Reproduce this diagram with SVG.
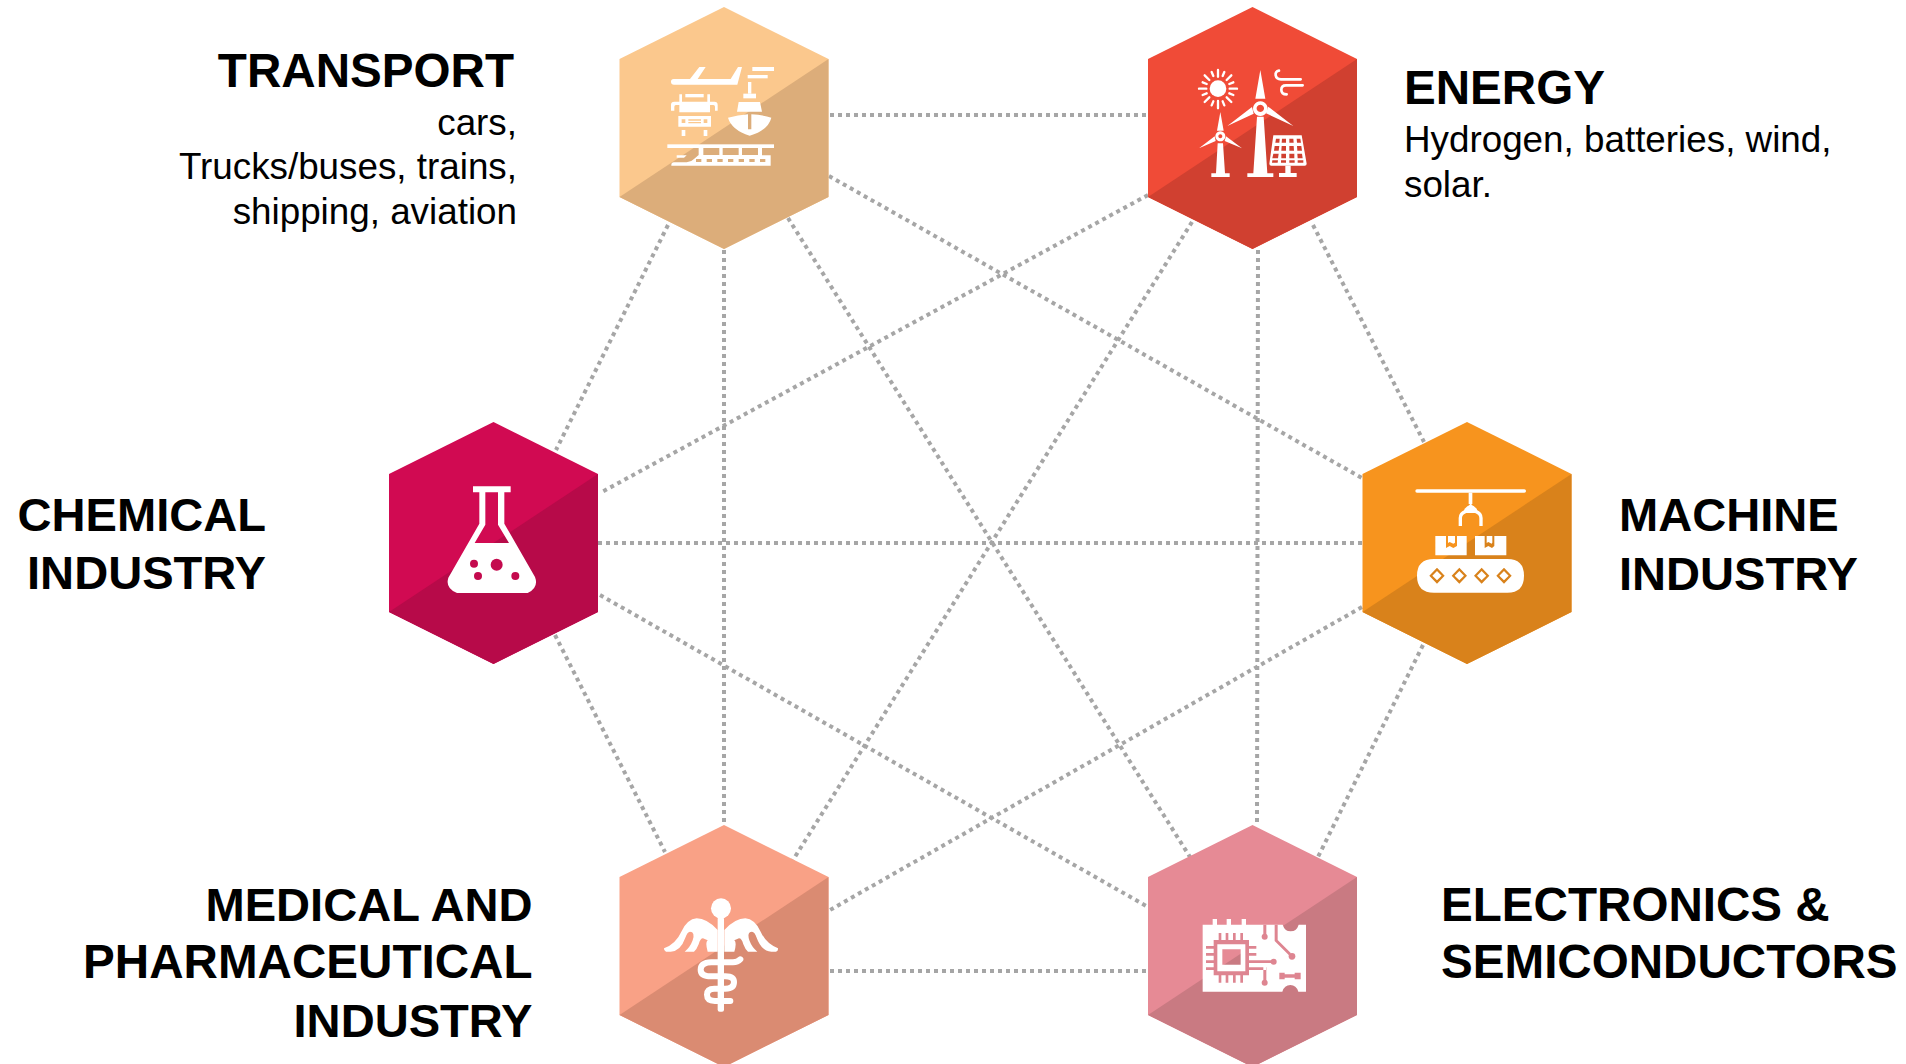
<svg xmlns="http://www.w3.org/2000/svg" width="1906" height="1064" viewBox="0 0 1906 1064">
<style>
text{font-family:"Liberation Sans",Arial,sans-serif;fill:#000}
.h{font-size:47.6px;font-weight:700}
.n{font-size:47.1px}
.s{font-size:36.8px}
.e{text-anchor:end}
.c line{stroke:#a6a6a6;stroke-width:4;stroke-dasharray:4 4;fill:none}
.w{fill:#fff}
.l{fill:none;stroke:#fff;stroke-linecap:round}
</style>
<defs>
<polygon id="hex" points="104.500,0 209,52 209,190 104.500,242 0,190 0,52"/>
<polygon id="shade" points="209,52 209,190 104.500,242 0,190"/>
</defs>
<rect width="1906" height="1064" fill="#fff"/>
<g id="connectors" class="c">
<line x1="830" y1="115" x2="1147" y2="115"/>
<line x1="724" y1="250" x2="724" y2="825"/>
<line x1="1258" y1="250" x2="1257" y2="825"/>
<line x1="668" y1="225" x2="556" y2="450"/>
<line x1="1313" y1="225" x2="1424" y2="442"/>
<line x1="555" y1="635" x2="665" y2="852"/>
<line x1="1423" y1="645" x2="1318" y2="857"/>
<line x1="598" y1="543" x2="1362" y2="543"/>
<line x1="830" y1="971" x2="1148" y2="971"/>
<line x1="829" y1="176" x2="1362" y2="478"/>
<line x1="1148" y1="195" x2="600" y2="493"/>
<line x1="788" y1="218" x2="1190" y2="857"/>
<line x1="1192" y1="222" x2="793" y2="860"/>
<line x1="600" y1="595" x2="1148" y2="907"/>
<line x1="1362" y1="607" x2="830" y2="910"/>
</g>
<g id="transport">
<use href="#hex" x="619.500" y="7" fill="#FBC88D"/><use href="#shade" x="619.500" y="7" fill="#DCAD7A"/>
<g transform="translate(600,0) scale(.33333)">
<path class="w" d="M213 245q0-8 8-8h49l28-36h19l-24 36h99l22-36h12l-14 53H222q-9 0-9-9z"/>
<rect class="w" x="457" y="201" width="65" height="12"/><rect class="w" x="443" y="225" width="60" height="10"/>
<rect class="w" x="256" y="282" width="55" height="10"/>
<path class="w" d="M213 332v-17q0-10 10-10h15v-22h8v22h76v-22h8v22h13q10 0 10 10v17h-8v-12q0-5-5-5h-10v22h-92v-22h-10q-5 0-5 5v12z"/>
<path class="w" fill-rule="evenodd" d="M235 348h98v32h-98zM245 358v11h11v-11zM311 358v11h11v-11zM265 358v4h38v-4zM265 366v4h38v-4z"/>
<rect class="w" x="245" y="390" width="11" height="18"/><rect class="w" x="311" y="390" width="11" height="18"/>
<rect class="w" x="444" y="246" width="10" height="35"/><rect class="w" x="430" y="281" width="38" height="14"/>
<path class="w" d="M416 306h64l6 29h-75zM384 353q30-8 60-10v45h10v-45q36 2 60 10-9 37-65 54-54-17-65-54z"/>
<rect class="w" x="202" y="433" width="320" height="11"/>
<path class="w" fill-rule="evenodd" d="M296 444h14v21h48v-21h10v21h48v-21h10v21h48v-21h12v22h26v31H214v-2q0-8 8-8h38q14-1 22-10l14-12zM288 477v9h16v-9zM320 477v9h16v-9zM352 477v9h16v-9zM384 477v9h16v-9zM416 477v9h16v-9zM448 477v9h16v-9zM480 477v9h16v-9z"/>
<path class="w" d="M230 466h30l-8 7h-22z"/>
</g>
</g>
<g id="energy">
<use href="#hex" x="1148" y="7" fill="#F04B37"/><use href="#shade" x="1148" y="7" fill="#D04030"/>
<g transform="translate(1130,0) scale(.33333)">
<circle class="w" cx="264" cy="266" r="25"/>
<g class="l" stroke-width="7"><path d="M264 210v20M264 303v22M207 266h22M299 266h22M224 226l14 14M290 292l14 14M304 226l-14 14M238 292l-14 14M245 216l5 12M278 304l5 12M283 216l-5 12M250 304l-5 12M218 247l12 5M298 280l12 5M310 247l-12 5M230 280l-12 5"/></g>
<path class="w" fill-rule="evenodd" d="M391 210l15 86h-30zM391 304a22 22 0 1 0 .1 0zM391 314a11 11 0 1 1-.1 0z"/>
<path class="w" d="M366 321l5 20-79 37zM415 320l-7 20 82 38zM381 350h20l11 170h18v11h-78v-11h18z"/>
<path class="w" fill-rule="evenodd" d="M271 336l10 56h-20zM271 394a15 15 0 1 0 .1 0zM271 403a6 6 0 1 1-.1 0z"/>
<path class="w" d="M254 409l3 14-50 22zM288 409l-4 14 52 22zM263 430h16l6 90h14v11h-55v-11h14z"/>
<path class="l" stroke-width="8" fill="none" d="M447 212q-12 2-10 14 2 12 16 12h59M518 256h-50q-14 0-14 13 0 14 16 14"/>
<path class="w" fill-rule="evenodd" d="M430 406h85l15 85q0 6-6 6H424q-6 0-6-6zM438 416l-2 12h12l1-12zM456 416l-1 12h13v-12zM478 416v12h13l-1-12zM500 416l1 12h12l-2-12zM434 438l-2 14h14l2-14zM455 438l-1 14h14v-14zM478 438v14h14l-1-14zM501 438l1 14h14l-2-14zM430 461l-3 14h17l2-14zM454 461v14h14v-14zM478 461v14h15v-14zM502 461l1 14h15l-2-14zM427 481l-1 7h17l1-7zM453 481v7h15v-7zM478 481v7h16v-7zM503 481v7h17v-7z"/>
<path class="w" d="M466 497h16v22h18v12h-53v-12h19z"/>
</g>
</g>
<g id="chemical">
<use href="#hex" x="389" y="422" fill="#D10A52"/><use href="#shade" x="389" y="422" fill="#B70A49"/>
<g transform="translate(380,410) scale(.33333)">
<path class="w" fill-rule="evenodd" d="M279 229h113v18h-19v94l92 160q12 32-22 48H231q-36-14-26-46l93-162v-94h-19zM316 247v97l-32 55h103l-33-55v-97z"/>
<g fill="#C40A4E"><circle cx="350" cy="464" r="18"/><circle cx="282" cy="461" r="12"/><circle cx="294" cy="498" r="12"/><circle cx="406" cy="498" r="12"/></g>
</g>
</g>
<g id="machine">
<use href="#hex" x="1362.500" y="422" fill="#F7941E"/><use href="#shade" x="1362.500" y="422" fill="#D9821B"/>
<g transform="translate(1350,410) scale(.33333)">
<rect class="w" x="196" y="238" width="332" height="10" rx="5"/>
<rect class="w" x="356" y="248" width="11" height="34"/>
<path class="w" d="M362 280l18 24h-36z"/>
<path d="M331 348v-24q0-14 16-20h30q16 6 16 20v24" fill="none" stroke="#fff" stroke-width="10"/>
<path class="w" d="M344 296q18-22 36 0l4 12h-44z"/>
<path class="w" fill-rule="evenodd" d="M256 378h94v58h-94zM288 378v36l11-6 11 6 11-6v-30h-6v20l-5 3-11-5-5 3v-21z"/>
<path class="w" fill-rule="evenodd" d="M375 378h94v58h-94zM404 378v36l11-6 11 6 7-6v-30h-6v20l-2 3-10-5-5 3v-21z"/>
<path class="w" fill-rule="evenodd" d="M252 447h220q50 0 50 50 0 51-50 51H252q-51 0-51-51 0-50 51-50zM261 473l-23 24 23 24 23-24zM261 483l14 14-14 14-14-14zM328 473l-23 24 23 24 23-24zM328 483l14 14-14 14-14-14zM395 473l-23 24 23 24 23-24zM395 483l14 14-14 14-14-14zM462 473l-23 24 23 24 23-24zM462 483l14 14-14 14-14-14z"/>
</g>
</g>
<g id="medical">
<use href="#hex" x="619.500" y="825" fill="#F9A186"/><use href="#shade" x="619.500" y="825" fill="#DA8B72"/>
<g transform="translate(600,810) scale(.33333)">
<circle class="w" cx="363" cy="295" r="30"/>
<rect class="w" x="353" y="320" width="19" height="285" rx="6"/>
<path class="w" d="M192 415q36-14 52-50 18-38 46-40 30 0 63 35v65h-30q-8-28 0-34l-14-6q-8 0-13 18-6 16-14 22h-28q16-12 24-34 8-26-8-26-8 0-14 18-14 40-44 42h-14q-7-2-6-10z"/>
<path class="w" d="M534 415q-36-14-52-50-18-38-46-40-30 0-63 35v65h30q8-28 0-34l14-6q8 0 13 18 6 16 14 22h28q-16-12-24-34-8-26 8-26 8 0 14 18 14 40 44 42h14q7-2 6-10z"/>
<path d="M421 448q-8 9-22 9h-65q-32 1-32 22 0 20 32 20h42q26 0 26 17 0 20-26 20h-33q-22 0-22 18t24 19h46" fill="none" stroke="#fff" stroke-width="18" stroke-linecap="round"/>
</g>
</g>
<g id="electronics">
<use href="#hex" x="1148" y="825" fill="#E68A95"/><use href="#shade" x="1148" y="825" fill="#C97A82"/>
<g transform="translate(1130,810) scale(.33333)">
<path class="w" fill-rule="evenodd" d="M218 344H458q6 20 24 20t24-20H528V545H505q-6-20-24-20t-24 20H218zM277 418v46h55v-46z"/>
<path fill="#DE8591" fill-rule="evenodd" d="M251 390h106v106H251zM262 403v81h84v-81zM266 369h8v21h-8zM287 369h8v21h-8zM309 369h8v21h-8zM331 369h8v21h-8zM266 496h8v22h-8zM287 496h8v22h-8zM309 496h8v22h-8zM331 496h8v22h-8zM228 408h23v8h-23zM228 429h23v8h-23zM228 451h23v8h-23zM228 472h23v8h-23zM357 408h22v8h-22zM357 429h22v8h-22zM357 451h68v8h-68zM357 472h51v8h-51zM400 344h9v32h-9zM400 472h9v40h-9zM434 344h9v46l40 40-6 6-43-43zM448 488h16v5h30v-5h18v20h-18v-5h-30v5h-16z"/>
<circle fill="#DE8591" cx="404" cy="380" r="9"/><circle fill="#DE8591" cx="431" cy="455" r="9"/><circle fill="#DE8591" cx="404" cy="518" r="9"/><circle fill="#DE8591" cx="486" cy="439" r="10"/>
<rect class="w" x="248" y="327" width="13" height="24"/><rect class="w" x="290" y="327" width="13" height="24"/><rect class="w" x="335" y="327" width="13" height="24"/>
</g>
</g>
<g id="labels">
<text class="h e" x="514" y="87">TRANSPORT</text>
<text class="s e" x="517" y="135">cars,</text>
<text class="s e" x="517" y="179">Trucks/buses, trains,</text>
<text class="s e" x="517" y="224">shipping, aviation</text>
<text class="h" x="1404" y="104">ENERGY</text>
<text class="s" x="1404" y="152">Hydrogen, batteries, wind,</text>
<text class="s" x="1404" y="197">solar.</text>
<text class="h n e" x="266" y="531">CHEMICAL</text>
<text class="h n e" x="266" y="589">INDUSTRY</text>
<text class="h n" x="1619" y="531">MACHINE</text>
<text class="h n" x="1619" y="590">INDUSTRY</text>
<text class="h n e" x="532.500" y="921">MEDICAL AND</text>
<text class="h e" x="532.500" y="978">PHARMACEUTICAL</text>
<text class="h n e" x="532.500" y="1037">INDUSTRY</text>
<text class="h" x="1441" y="921">ELECTRONICS &amp;</text>
<text class="h" x="1441" y="978">SEMICONDUCTORS</text>
</g>
</svg>
